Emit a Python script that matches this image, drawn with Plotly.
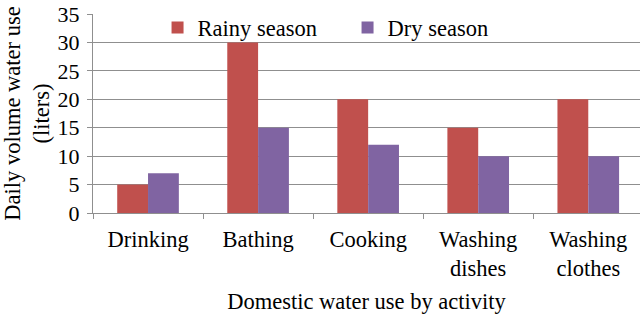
import plotly.graph_objects as go

categories = ["Drinking", "Bathing", "Cooking", "Washing<br>dishes", "Washing<br>clothes"]
rainy = [5, 30, 20, 15, 20]
dry = [7, 15, 12, 10, 10]
y_ticks = [0, 5, 10, 15, 20, 25, 30, 35]

FONT = "Liberation Serif"
GRID = "#8f8f8f"

fig = go.Figure()
fig.add_trace(go.Bar(x=categories, y=rainy, name="Rainy season", marker=dict(color="#C0504D", line=dict(width=0))))
fig.add_trace(go.Bar(x=categories, y=dry, name="Dry season", marker=dict(color="#8064A2", line=dict(width=0))))

fig.update_layout(
    width=640, height=314,
    margin=dict(l=93, r=0, t=14, b=101, autoexpand=False),
    paper_bgcolor="white", plot_bgcolor="white",
    font=dict(family=FONT, size=22.5, color="black"),
    barmode="group", bargap=0.44, bargroupgap=0,
    showlegend=True,
    legend=dict(orientation="h", x=0.118, xanchor="left", y=0.93, yanchor="middle",
                bgcolor="rgba(0,0,0,0)", borderwidth=0, font=dict(family=FONT, size=22.5, color="black"),
                entrywidth=145, entrywidthmode="pixels", traceorder="normal"),
    xaxis=dict(range=[-0.5, 4.47], showline=True, linecolor=GRID, linewidth=1, automargin=False,
               ticks="outside", tickson="boundaries", ticklen=5, tickcolor=GRID,
               showgrid=False, tickfont=dict(family=FONT, size=22.5), ticklabelstandoff=6,
               title=dict(text="Domestic water use by activity", standoff=12,
                          font=dict(family=FONT, size=22.5))),
    yaxis=dict(range=[0, 35], tickvals=y_ticks, showline=True, linecolor=GRID, linewidth=1, automargin=False,
               ticks="outside", ticklen=5, tickcolor=GRID, showgrid=True, gridcolor=GRID,
               gridwidth=1, zeroline=False, ticklabelstandoff=3, tickfont=dict(family=FONT, size=22),
               title=dict(text="Daily volume water use<br>(liters)", standoff=8,
                          font=dict(family=FONT, size=22.5))),
)

fig.write_html("out.html", config={"displayModeBar": False},
               post_script="document.body.style.margin='0';document.body.style.padding='0';")
